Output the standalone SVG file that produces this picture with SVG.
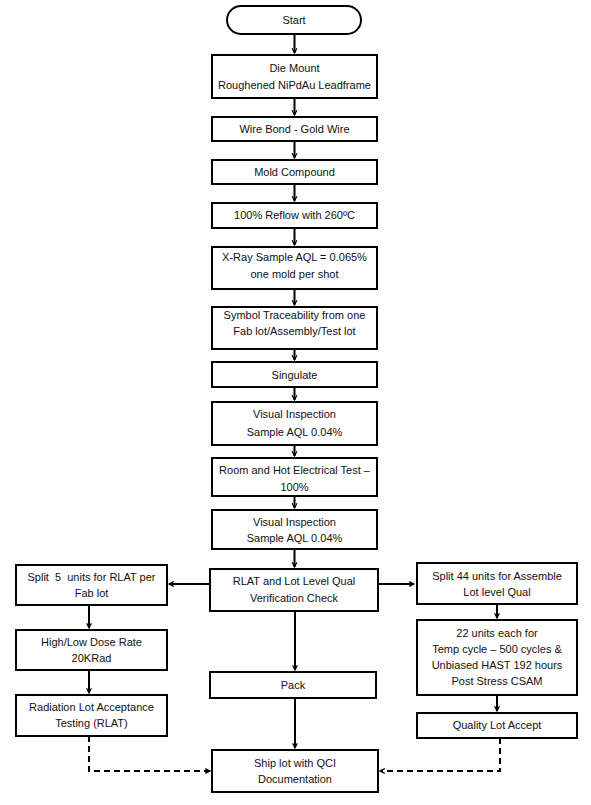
<svg xmlns="http://www.w3.org/2000/svg" width="591" height="805" viewBox="0 0 591 805">
<style>
.b{fill:#fff;stroke:#000;stroke-width:2}
text{font-family:"Liberation Sans",Arial,sans-serif;font-size:11px;fill:#111;text-anchor:middle}
.p{white-space:pre}
.c{fill:none;stroke:#000;stroke-width:2}
.d{fill:none;stroke:#000;stroke-width:2;stroke-dasharray:6 4}
</style>
<defs>
<marker id="a" viewBox="0 0 10 10" refX="9" refY="5" markerWidth="6" markerHeight="6" markerUnits="userSpaceOnUse" orient="auto" overflow="visible">
<path d="M1,1 L9,5 L1,9" fill="none" stroke="#000" stroke-width="2"/>
</marker>
</defs>
<rect width="591" height="805" fill="#fff"/>
<g id="connectors">
<path class="c" d="M294.5 34V53" marker-end="url(#a)"/>
<path class="c" d="M294.5 98V115" marker-end="url(#a)"/>
<path class="c" d="M294.5 141V158" marker-end="url(#a)"/>
<path class="c" d="M294.5 184V201" marker-end="url(#a)"/>
<path class="c" d="M294.5 228V245" marker-end="url(#a)"/>
<path class="c" d="M294.5 289V305" marker-end="url(#a)"/>
<path class="c" d="M294.5 349V360" marker-end="url(#a)"/>
<path class="c" d="M294.5 387V400" marker-end="url(#a)"/>
<path class="c" d="M294.5 445V456" marker-end="url(#a)"/>
<path class="c" d="M294.5 496V508" marker-end="url(#a)"/>
<path class="c" d="M294.5 549V567" marker-end="url(#a)"/>
<path class="c" d="M295 611V670" marker-end="url(#a)"/>
<path class="c" d="M295 698V748" marker-end="url(#a)"/>
<path class="c" d="M210 584H169" marker-end="url(#a)"/>
<path class="c" d="M378 584H414" marker-end="url(#a)"/>
<path class="c" d="M89 605V628" marker-end="url(#a)"/>
<path class="c" d="M89 670V693" marker-end="url(#a)"/>
<path class="c" d="M497 604V618" marker-end="url(#a)"/>
<path class="c" d="M497 695V711" marker-end="url(#a)"/>
<path class="d" d="M89 736V771H210" marker-end="url(#a)"/>
<path class="d" d="M500 738V771H380" marker-end="url(#a)"/>
</g>
<g id="start"><rect class="b" x="227" y="6" width="134" height="28" rx="14"/><text x="294" y="24">Start</text></g>
<g id="die-mount"><rect class="b" x="212" y="55" width="165" height="43"/><text x="294.5" y="72">Die Mount</text><text x="294.5" y="89">Roughened NiPdAu Leadframe</text></g>
<g id="wire-bond"><rect class="b" x="212" y="117" width="165" height="24"/><text x="294.5" y="133">Wire Bond - Gold Wire</text></g>
<g id="mold"><rect class="b" x="212" y="160" width="165" height="24"/><text x="294.5" y="176">Mold Compound</text></g>
<g id="reflow"><rect class="b" x="212" y="203" width="165" height="25"/><text x="294.5" y="219">100% Reflow with 260ºC</text></g>
<g id="xray"><rect class="b" x="212" y="247" width="165" height="42"/><text x="294.5" y="261">X-Ray Sample AQL = 0.065%</text><text x="294.5" y="278">one mold per shot</text></g>
<g id="symbol"><rect class="b" x="212" y="307" width="165" height="42"/><text x="294.5" y="319">Symbol Traceability from one</text><text x="294.5" y="335">Fab lot/Assembly/Test lot</text></g>
<g id="singulate"><rect class="b" x="212" y="362" width="165" height="25"/><text x="294.5" y="379">Singulate</text></g>
<g id="visual1"><rect class="b" x="212" y="402" width="165" height="43"/><text x="294.5" y="418">Visual Inspection</text><text x="294.5" y="436">Sample AQL 0.04%</text></g>
<g id="electrical"><rect class="b" x="212" y="458" width="165" height="38"/><text x="294.5" y="474">Room and Hot Electrical Test –</text><text x="294.5" y="491">100%</text></g>
<g id="visual2"><rect class="b" x="212" y="510" width="165" height="39"/><text x="294.5" y="526">Visual Inspection</text><text x="294.5" y="542">Sample AQL 0.04%</text></g>
<g id="rlat-check"><rect class="b" x="210" y="569" width="168" height="42"/><text x="294" y="585">RLAT and Lot Level Qual</text><text x="294" y="602">Verification Check</text></g>
<g id="pack"><rect class="b" x="210" y="672" width="166" height="26"/><text x="293" y="689">Pack</text></g>
<g id="ship"><rect class="b" x="212" y="750" width="166" height="42"/><text x="295" y="767">Ship lot with QCI</text><text x="295" y="783">Documentation</text></g>
<g id="split5"><rect class="b" x="16" y="565" width="151" height="40"/><text class="p" x="91.5" y="581" xml:space="preserve">Split  5  units for RLAT per</text><text x="91.5" y="597">Fab lot</text></g>
<g id="dose"><rect class="b" x="16" y="630" width="151" height="40"/><text x="91.5" y="646">High/Low Dose Rate</text><text x="91.5" y="662">20KRad</text></g>
<g id="rlat"><rect class="b" x="16" y="695" width="151" height="41"/><text x="91.5" y="711">Radiation Lot Acceptance</text><text x="91.5" y="727">Testing (RLAT)</text></g>
<g id="split44"><rect class="b" x="417" y="563" width="160" height="41"/><text x="497" y="580">Split 44 units for Assemble</text><text x="497" y="596">Lot level Qual</text></g>
<g id="stress"><rect class="b" x="417" y="620" width="160" height="75"/><text x="497" y="637">22 units each for</text><text x="497" y="653">Temp cycle – 500 cycles &amp;</text><text x="497" y="669">Unbiased HAST 192 hours</text><text x="497" y="685">Post Stress CSAM</text></g>
<g id="quality"><rect class="b" x="417" y="713" width="160" height="25"/><text x="497" y="729">Quality Lot Accept</text></g>
</svg>
